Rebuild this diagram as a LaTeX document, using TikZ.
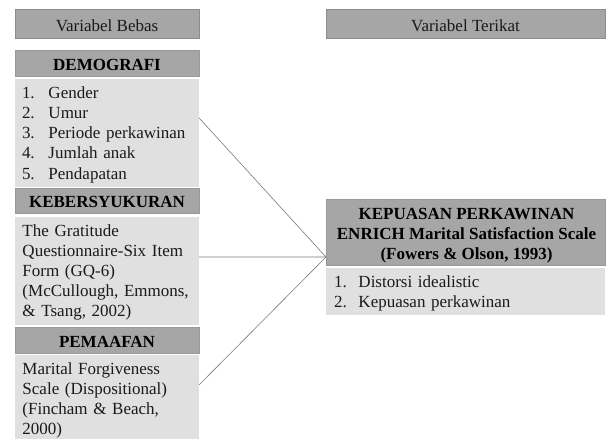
\documentclass[tikz,border=0pt]{standalone}
\usepackage{fontspec}
\setmainfont{Liberation Serif}
\usetikzlibrary{calc}
\definecolor{hdrfill}{HTML}{A6A6A6}
\definecolor{hdrline}{HTML}{8C8C8C}
\definecolor{cfill}{HTML}{E0E0E0}
\definecolor{conncol}{HTML}{7A7A7A}
\definecolor{txt}{HTML}{1A1A1A}
\begin{document}
\begin{tikzpicture}[x=1pt,y=-1pt,
  base/.style={anchor=north west, inner sep=0pt, outer sep=0pt},
  varbox/.style={base, draw=hdrline, line width=0.8pt, fill=hdrfill,
    text height=16pt, text depth=0pt, font=\fontsize{17}{20.2}\selectfont, text=txt},
  hdrbox/.style={base, fill=hdrfill, draw=hdrfill!92!black, line width=0.4pt,
    text height=14pt, text depth=0pt, font=\fontsize{17}{20.2}\selectfont\bfseries, text=black},
  cbox/.style={base, fill=cfill},
  body/.style={base, align=left, font=\fontsize{17}{20.2}\selectfont, text=txt},
  conn/.style={draw=conncol, line width=0.6pt}
]
\useasboundingbox[fill=white] (0,0) rectangle (606,439);

% column titles
\node[varbox, minimum width=184pt, minimum height=29pt] (vb) at (15,9) {Variabel Bebas};
\node[varbox, minimum width=279pt, minimum height=29pt] (vt) at (326,9) {Variabel Terikat};

% left column
\node[hdrbox, minimum width=184pt, minimum height=26pt] (demh) at (15,50) {DEMOGRAFI};
\node[cbox, minimum width=184pt, minimum height=108pt] (demc) at (15,79) {};
\node[hdrbox, minimum width=184pt, minimum height=25pt] (kebh) at (15,188) {KEBERSYUKURAN};
\node[cbox, minimum width=184pt, minimum height=108pt] (kebc) at (15,217) {};
\node[hdrbox, minimum width=184pt, minimum height=26pt] (pemh) at (15,327) {PEMAAFAN};
\node[cbox, minimum width=184pt, minimum height=84pt] (pemc) at (15,355) {};

% right column
\node[hdrbox, minimum width=279pt, minimum height=66pt] (keph) at (326,199) {};
\node[cbox, minimum width=279pt, minimum height=47pt] (kepc) at (326,268) {};

% texts
\node[body, text width=176pt] (demt) at (22,86.3)
  {\rule{0pt}{12pt}\makebox[26.5pt][l]{1.}Gender\\
   \makebox[26.5pt][l]{2.}Umur\\
   \makebox[26.5pt][l]{3.}Periode perkawinan\\
   \makebox[26.5pt][l]{4.}Jumlah anak\\
   \makebox[26.5pt][l]{5.}Pendapatan};
\node[body, text width=176pt] (kebt) at (22.5,224)
  {\rule{0pt}{12pt}The Gratitude\\
   Questionnaire-Six Item\\
   Form (GQ-6)\\
   (McCullough, Emmons,\\
   \& Tsang, 2002)};
\node[body, text width=176pt] (pemt) at (22.5,362)
  {\rule{0pt}{12pt}Marital Forgiveness\\
   Scale (Dispositional)\\
   (Fincham \& Beach,\\
   2000)};
\node[body, anchor=north, align=center, font=\fontsize{17}{20.2}\selectfont\bfseries, text=black]
  (kepht) at (466.5,207)
  {\rule{0pt}{12pt}KEPUASAN PERKAWINAN\\
   ENRICH Marital Satisfaction Scale\\
   (Fowers \& Olson, 1993)};
\node[body, text width=260pt] (kept) at (334,275)
  {\rule{0pt}{12pt}\makebox[24.5pt][l]{1.}Distorsi idealistic\\
   \makebox[24.5pt][l]{2.}Kepuasan perkawinan};

% connectors
\coordinate (s1) at ($(demc.north east)!0.36!(demc.south east)$);
\coordinate (s2) at ($(kebc.north east)!0.37!(kebc.south east)$);
\coordinate (s3) at ($(pemc.north east)!0.357!(pemc.south east)$);
\coordinate (t) at ($(keph.north west)!0.879!(keph.south west)$);
\draw[conn] (s1) -- (t);
\draw[conn] (s2) -- (t);
\draw[conn] (s3) -- (t);
\end{tikzpicture}
\end{document}
